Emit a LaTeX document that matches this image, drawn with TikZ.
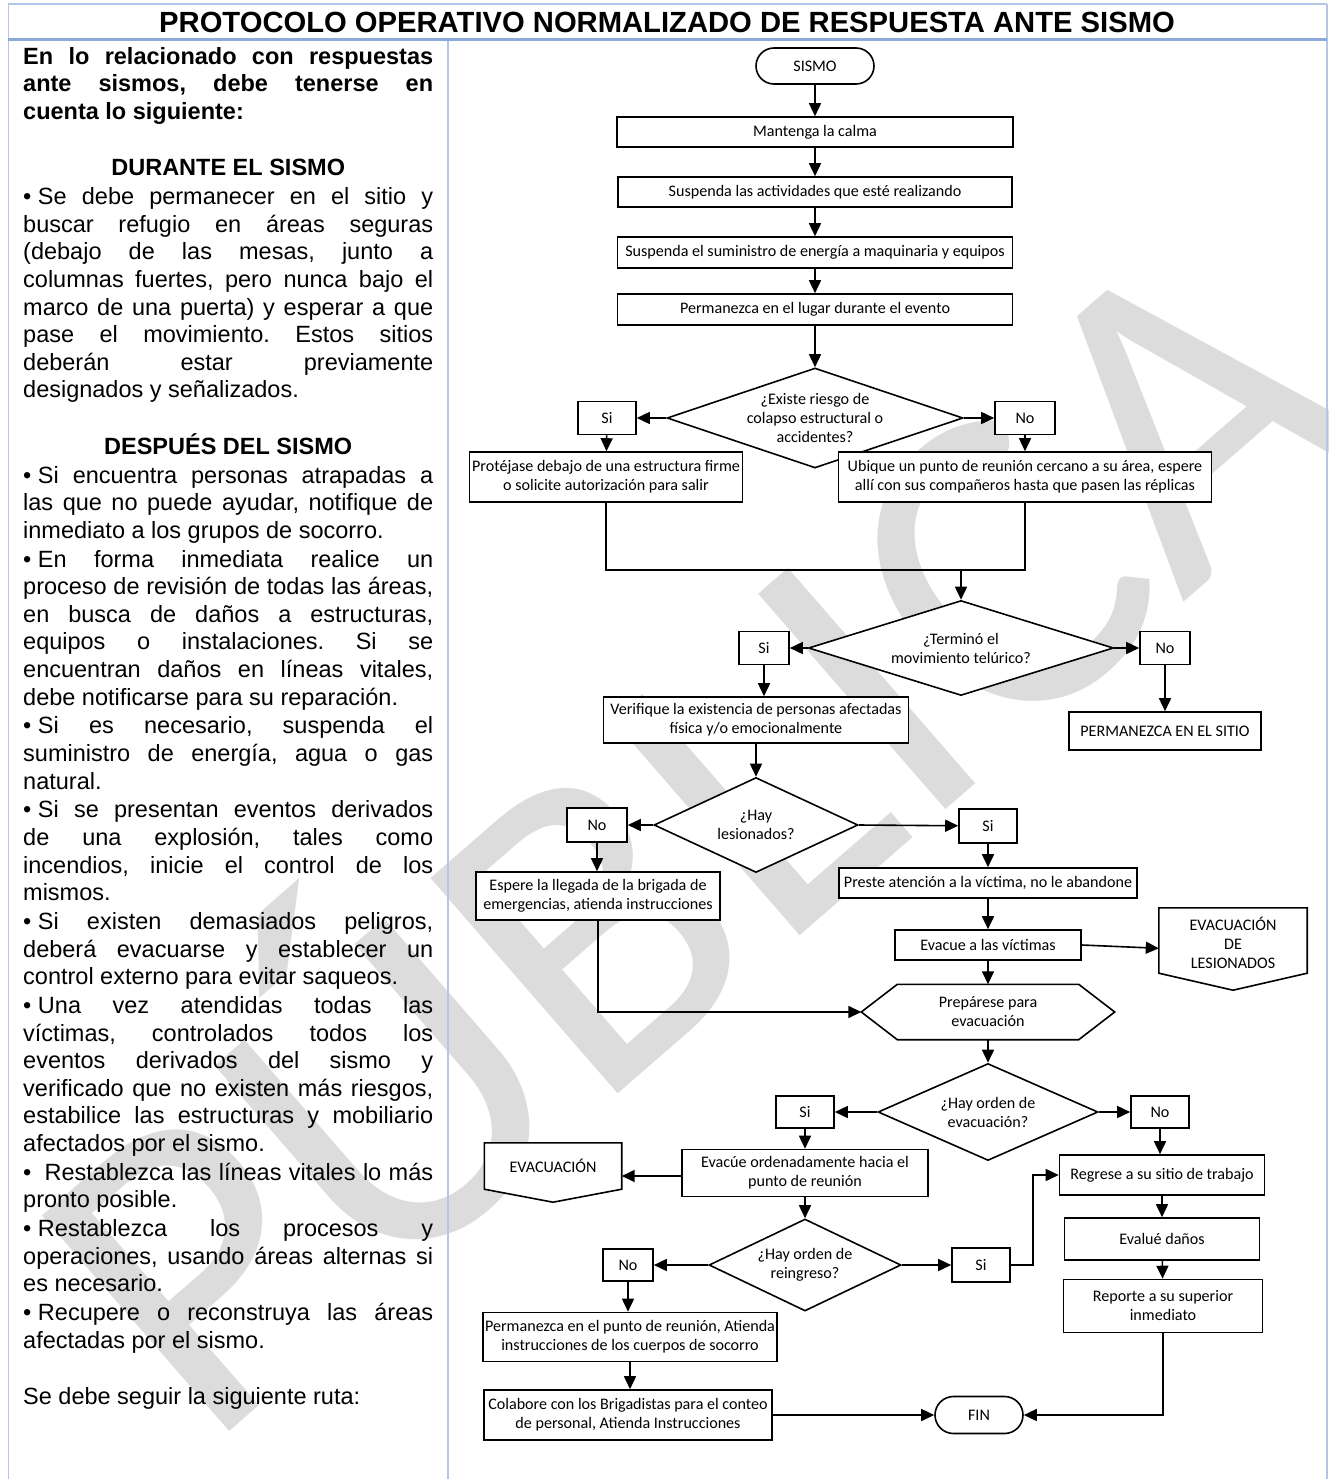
\documentclass[tikz,border=0pt]{standalone}
\usepackage{fontspec}
\setmainfont{Liberation Sans}
\newfontfamily\flowfont{Carlito}
\usepackage{tikz}
\usetikzlibrary{shapes.geometric, shapes.misc, arrows.meta, positioning, calc}

\definecolor{tableblue}{HTML}{B4C6E7}
\definecolor{headblue}{HTML}{8EAADB}
\definecolor{markgray}{HTML}{DCDCDC}

\newcommand{\bul}{•\hspace{0.28em}}

\begin{document}
\begin{tikzpicture}[
    x=1bp, y=-1bp,
    flow/.style={font=\flowfont\fontsize{16.1bp}{19bp}\selectfont, align=center, inner sep=2bp},
    proc/.style={flow, draw, fill=white, line width=1.6bp},
    term/.style={proc, rounded rectangle},
    decision/.style={draw, fill=white, diamond, inner sep=0pt, line width=1.6bp},
    answer/.style={proc, minimum width=58bp, minimum height=33bp},
    box size/.style 2 args={minimum width=#1, minimum height=#2},
    outline/.style={draw, fill=white, line width=1.6bp},
    arrow/.style={-{Triangle[length=13bp, width=12bp]}, line width=1.6bp},
    link/.style={line width=1.6bp},
    rule/.style={draw=tableblue, line width=1.5bp}
]
\useasboundingbox (0,0) rectangle (1329,1479);

% Watermark
\node[text=markgray, rotate=41, font=\flowfont\fontsize{445bp}{445bp}\selectfont] (mark) at (670,805) {PÚBLICA};

% Table
\draw[draw=tableblue, line width=1.3bp] (8,4) -- (1327,4);
\draw[rule] (8.5,4) -- (8.5,1479);
\draw[rule] (448,41) -- (448,1479);
\draw[rule] (1327,4) -- (1327,1479);
\draw[draw=headblue, line width=3.5bp] (8,39.5) -- (1327,39.5);

\node[font=\bfseries\fontsize{29.2bp}{30bp}\selectfont] (title) at (667,22) {PROTOCOLO OPERATIVO NORMALIZADO DE RESPUESTA ANTE SISMO};

\node[anchor=north west, inner sep=0pt, text width=410bp, align=justify,
      font=\fontsize{23.5bp}{27.6bp}\selectfont] (notes) at (23,47) {%
\frenchspacing\setlength{\parindent}{0pt}\setlength{\parskip}{1.2bp}%
{\bfseries En lo relacionado con respuestas\linebreak ante sismos, debe tenerse en\linebreak cuenta lo siguiente:\par}
\vspace{27.6bp}
{\centering\bfseries DURANTE EL SISMO\par}
\bul Se debe permanecer en el sitio y\linebreak buscar refugio en áreas seguras\linebreak (debajo de las mesas, junto a\linebreak columnas fuertes, pero nunca bajo el\linebreak marco de una puerta) y esperar a que\linebreak pase el movimiento. Estos sitios\linebreak deberán estar previamente\linebreak designados y señalizados.\par
\vspace{27.6bp}
{\centering\bfseries DESPUÉS DEL SISMO\par}
\bul Si encuentra personas atrapadas a\linebreak las que no puede ayudar, notifique de\linebreak inmediato a los grupos de socorro.\par
\bul En forma inmediata realice un\linebreak proceso de revisión de todas las áreas,\linebreak en busca de daños a estructuras,\linebreak equipos o instalaciones. Si se\linebreak encuentran daños en líneas vitales,\linebreak debe notificarse para su reparación.\par
\bul Si es necesario, suspenda el\linebreak suministro de energía, agua o gas\linebreak natural.\par
\bul Si se presentan eventos derivados\linebreak de una explosión, tales como\linebreak incendios, inicie el control de los\linebreak mismos.\par
\bul Si existen demasiados peligros,\linebreak deberá evacuarse y establecer un\linebreak control externo para evitar saqueos.\par
\bul Una vez atendidas todas las\linebreak víctimas, controlados todos los\linebreak eventos derivados del sismo y\linebreak verificado que no existen más riesgos,\linebreak estabilice las estructuras y mobiliario\linebreak afectados por el sismo.\par
\bul\hspace{0.28em}Restablezca las líneas vitales lo más\linebreak pronto posible.\par
\bul Restablezca los procesos y\linebreak operaciones, usando áreas alternas si\linebreak es necesario.\par
\bul Recupere o reconstruya las áreas\linebreak afectadas por el sismo.\par
\vspace{27.6bp}
Se debe seguir la siguiente ruta:\par};

% Flowchart
\node[term, box size={122bp}{36bp}] (sismo) at (815,66) {SISMO};
\node[proc, box size={396bp}{30bp}] (calma) at (815,132) {Mantenga la calma};
\node[proc, box size={394bp}{30bp}] (activ) at (815,192) {Suspenda las actividades que esté realizando};
\node[proc, box size={395bp}{31bp}] (energia) at (815,252.5) {Suspenda el suministro de energía a maquinaria y equipos};
\node[proc, box size={395bp}{31bp}] (lugar) at (815,309.5) {Permanezca en el lugar durante el evento};

\node[decision, box size={296bp}{100bp}] (riesgo) at (815,418) {};
\node[flow] (riesgo-txt) at (riesgo) {¿Existe riesgo de\\colapso estructural o\\accidentes?};
\node[answer] (si1) at (607,418) {Si};
\node[answer, minimum width=60bp] (no1) at (1025,418) {No};
\node[proc, box size={273bp}{50bp}] (prot) at (606,477) {Protéjase debajo de una estructura firme\\o solicite autorización para salir};
\node[proc, box size={373bp}{50bp}] (ubi) at (1025,477) {Ubique un punto de reunión cercano a su área, espere\\allí con sus compañeros hasta que pasen las réplicas};
\coordinate (join) at (961,570);

\node[decision, box size={305bp}{95bp}] (tel) at (961,648) {};
\node[flow] (tel-txt) at (tel) {¿Terminó el\\movimiento telúrico?};
\node[answer, minimum width=50bp] (si2) at (764,648) {Si};
\node[answer, minimum width=50bp] (no2) at (1165,648) {No};
\node[proc, box size={305bp}{46bp}] (ver) at (756,720) {Verifique la existencia de personas afectadas\\física y/o emocionalmente};
\node[proc, box size={192bp}{38bp}] (sitio) at (1165,731) {PERMANEZCA EN EL SITIO};

\node[decision, box size={204bp}{95bp}] (les) at (756,825) {};
\node[flow] (les-txt) at (les) {¿Hay\\lesionados?};
\node[answer, minimum width=60bp, minimum height=34bp] (no3) at (597,825) {No};
\node[answer, minimum height=34bp] (si3) at (988,826) {Si};
\node[proc, box size={244bp}{48bp}] (esp) at (598,896) {Espere la llegada de la brigada de\\emergencias, atienda instrucciones};
\node[proc, box size={298bp}{30bp}] (prest) at (988,883) {Preste atención a la víctima, no le abandone};
\node[proc, box size={186bp}{30bp}] (evac) at (988,945) {Evacue a las víctimas};

\node[inner sep=0pt, box size={148bp}{65bp}] (evles) at (1233,940.5) {};
\draw[outline] (evles.north west) -- (evles.north east) -- (evles.south east)
    -- ([yshift=-17bp]evles.south) -- (evles.south west) -- cycle;
\node[flow] (evles-txt) at ([yshift=-2bp]evles) {EVACUACIÓN\\DE\\LESIONADOS};

\node[inner sep=0pt, box size={253bp}{55bp}] (prep) at (988,1012) {};
\draw[outline] (prep.west) -- ([xshift=36bp]prep.north west) -- ([xshift=-36bp]prep.north east)
    -- (prep.east) -- ([xshift=-36bp]prep.south east) -- ([xshift=36bp]prep.south west) -- cycle;
\node[flow] (prep-txt) at (prep) {Prepárese para\\evacuación};

\node[decision, box size={220bp}{97bp}] (orden) at (988,1112) {};
\node[flow] (orden-txt) at (orden) {¿Hay orden de\\evacuación?};
\node[answer, minimum height=32bp] (si4) at (805,1112) {Si};
\node[answer, minimum height=32bp] (no4) at (1160,1112) {No};
\node[proc, box size={246bp}{47bp}] (evo) at (805,1173) {Evacúe ordenadamente hacia el\\punto de reunión};

\node[inner sep=0pt, box size={137bp}{46bp}] (evgen) at (553,1166) {};
\draw[outline] (evgen.north west) -- (evgen.north east) -- (evgen.south east)
    -- ([yshift=-13bp]evgen.south) -- (evgen.south west) -- cycle;
\node[flow] (evgen-txt) at (evgen) {EVACUACIÓN};

\node[decision, box size={192bp}{92bp}] (rein) at (805,1265) {};
\node[flow] (rein-txt) at (rein) {¿Hay orden de\\reingreso?};
\node[answer, minimum width=50bp, minimum height=32bp] (no5) at (628,1265) {No};
\node[answer, minimum height=34bp] (si5) at (981,1265) {Si};

\node[proc, box size={205bp}{40bp}] (reg) at (1162,1175) {Regrese a su sitio de trabajo};
\node[proc, box size={195bp}{42bp}] (dan) at (1162,1239) {Evalué daños};
\node[proc, box size={199bp}{53bp}] (rep) at (1163,1306) {Reporte a su superior\\inmediato};
\node[proc, box size={293bp}{49bp}] (punto) at (630,1337) {Permanezca en el punto de reunión, Atienda\\instrucciones de los cuerpos de socorro};
\node[proc, box size={288bp}{50bp}] (colab) at (628,1415) {Colabore con los Brigadistas para el conteo\\de personal, Atienda Instrucciones};
\node[term, box size={92bp}{37bp}] (fin) at (979,1415) {FIN};

% Connectors
\draw[arrow] (sismo) -- (calma);
\draw[arrow] (calma) -- (activ);
\draw[arrow] (activ) -- (energia);
\draw[arrow] (energia) -- (lugar);
\draw[arrow] (lugar) -- (riesgo.north);
\draw[arrow] (riesgo.west) -- (si1);
\draw[arrow] (riesgo.east) -- (no1);
\draw[arrow] (si1) -- (prot);
\draw[arrow] (no1) -- (ubi);
\draw[link] (prot.south) |- (join);
\draw[link] (ubi.south) |- (join);
\draw[arrow] (join) -- (tel.north);
\draw[arrow] (tel.west) -- (si2);
\draw[arrow] (tel.east) -- (no2);
\draw[arrow] (si2.south) -- (si2.south |- ver.north);
\draw[arrow] (no2) -- (sitio);
\draw[arrow] (ver) -- (les.north);
\draw[arrow] (les.west) -- (no3);
\draw[arrow] (les.east) -- (si3);
\draw[arrow] (no3.south) -- (no3.south |- esp.north);
\draw[arrow] (si3) -- (prest);
\draw[arrow] (prest) -- (evac);
\draw[arrow] (evac.east) -- (evles.186);
\draw[arrow] (evac) -- (prep.north);
\draw[arrow] (esp.south) |- (prep.west);
\draw[arrow] (prep.south) -- (orden.north);
\draw[arrow] (orden.west) -- (si4);
\draw[arrow] (orden.east) -- (no4);
\draw[arrow] (si4) -- (evo);
\draw[arrow] ([yshift=-3bp]evo.west) -- ([yshift=-3bp]evo.west -| evgen.east);
\draw[arrow] (evo) -- (rein.north);
\draw[arrow] (rein.west) -- (no5);
\draw[arrow] (rein.east) -- (si5);
\draw[arrow] (no4.south) -- (no4.south |- reg.north);
\draw[arrow] (si5.east) -- ++(22,0) |- (reg.west);
\draw[arrow] (reg) -- (dan);
\draw[arrow] (dan) -- (rep);
\draw[arrow] (no5.south) -- (no5.south |- punto.north);
\draw[arrow] (punto.south) -- (punto.south |- colab.north);
\draw[arrow] (colab) -- (fin);
\draw[arrow] (rep.south) |- (fin.east);

\end{tikzpicture}
\end{document}
